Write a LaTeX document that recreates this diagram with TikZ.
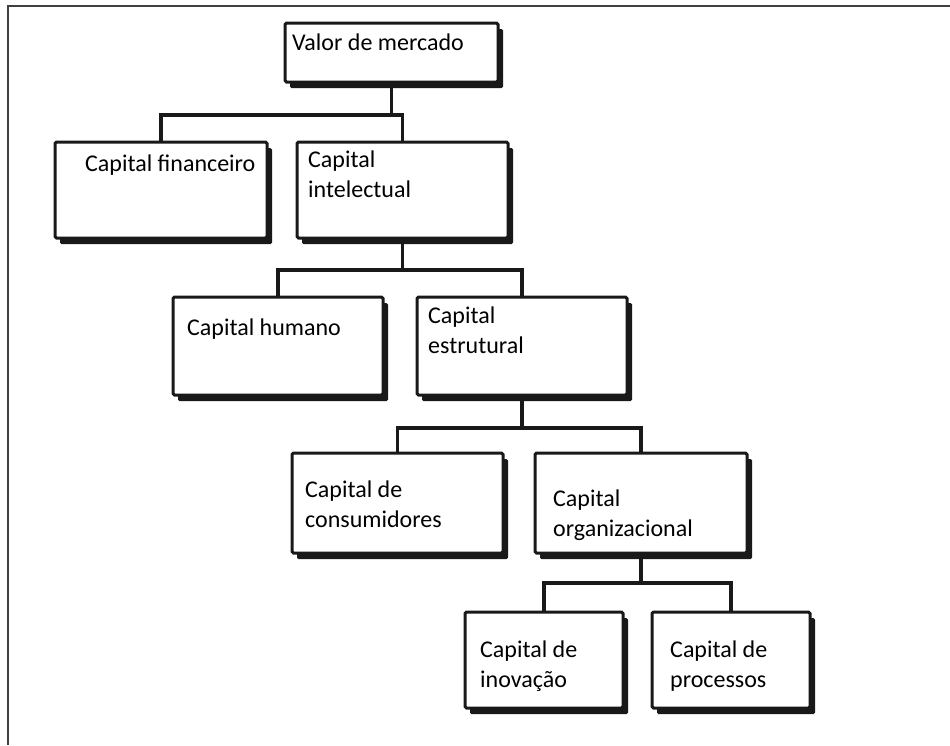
\documentclass[tikz,border=0pt]{standalone}
\usepackage{fontspec}
\setmainfont{Carlito}
\usetikzlibrary{shadows}

\tikzset{
  capbox/.style={draw=black!90, line width=3pt, fill=white, rounded corners=1.5pt,
    anchor=north west, inner sep=0pt, outer sep=0pt,
    drop shadow={shadow xshift=5pt, shadow yshift=-6pt, fill=black!90, opacity=1}},
  captxt/.style={anchor=base west, align=left, inner sep=0pt,
    font=\fontsize{24}{30}\selectfont},
  conn/.style={line width=3.5pt, draw=black!90},
  frame/.style={line width=2pt, draw=black!75}
}

\begin{document}
\begin{tikzpicture}[x=1pt, y=-1pt]
        \useasboundingbox (0,0) rectangle (950,745);
        \draw[frame] (950,6) -- (8,6) -- (8,745);
        % boxes
        \node[capbox, minimum width=213pt, minimum height=59pt] (val) at (285,23) {};
        \node[capbox, minimum width=212pt, minimum height=96pt] (fin) at (55,142) {};
        \node[capbox, minimum width=211pt, minimum height=96pt] (int) at (297,142) {};
        \node[capbox, minimum width=210pt, minimum height=98pt] (hum) at (173,297) {};
        \node[capbox, minimum width=210pt, minimum height=98pt] (est) at (417,297) {};
        \node[capbox, minimum width=211pt, minimum height=100pt] (con) at (292,453) {};
        \node[capbox, minimum width=212pt, minimum height=100pt] (org) at (535,453) {};
        \node[capbox, minimum width=158pt, minimum height=96pt] (ino) at (465,612) {};
        \node[capbox, minimum width=158pt, minimum height=96pt] (pro) at (652,612) {};
        % texts (base = last line)
        \node[captxt] (valtxt) at (292,50) {Valor de mercado};
        \node[captxt] (fintxt) at (85,171) {Capital financeiro};
        \node[captxt] (inttxt) at (308,197) {Capital\\intelectual};
        \node[captxt] (humtxt) at (187,335) {Capital humano};
        \node[captxt] (esttxt) at (428,353) {Capital\\estrutural};
        \node[captxt] (contxt) at (305,527) {Capital de\\consumidores};
        \node[captxt] (orgtxt) at (553,536) {Capital\\organizacional};
        \node[captxt] (inotxt) at (480,687) {Capital de\\inovação};
        \node[captxt] (protxt) at (670,687) {Capital de\\processos};
        % connectors
        \coordinate (bus1) at (392,115);
        \coordinate (bus2) at (403,270);
        \coordinate (bus3) at (522,428);
        \coordinate (bus4) at (641,583);
        \draw[conn] (val.south) -- (val.south |- bus1);
        \draw[conn] (fin.north) |- (bus1) -| (int.north);
        \draw[conn] (int.south) -- (int.south |- bus2);
        \draw[conn] (hum.north) |- (bus2) -| (est.north);
        \draw[conn] (est.south) -- (est.south |- bus3);
        \draw[conn] (con.north) |- (bus3) -| (org.north);
        \draw[conn] (org.south) -- (org.south |- bus4);
        \draw[conn] (ino.north) |- (bus4) -| (pro.north);
\end{tikzpicture}
\end{document}
